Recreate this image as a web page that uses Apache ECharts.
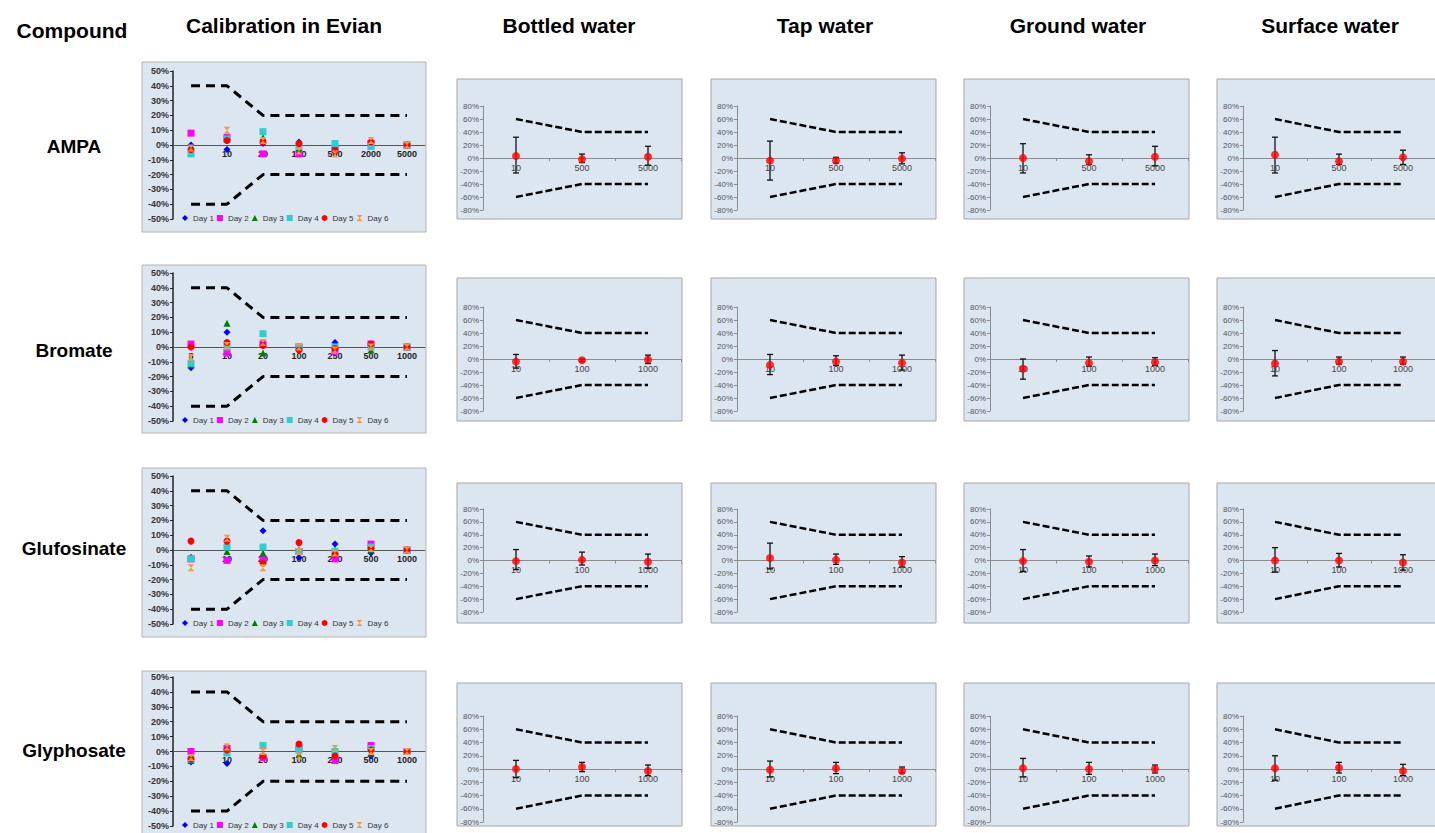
<!DOCTYPE html>
<html><head><meta charset="utf-8">
<script src="https://cdn.jsdelivr.net/npm/echarts@6/dist/echarts.min.js"></script>
<style>html,body{margin:0;padding:0;background:#fff}#c{width:1435px;height:833px}</style>
</head><body><div id="c"></div>
<script>
// ---------- text ----------
const compounds = ['AMPA', 'Bromate', 'Glufosinate', 'Glyphosate'];
const columnTitles = ['Calibration in Evian', 'Bottled water', 'Tap water', 'Ground water', 'Surface water'];
const cornerTitle = 'Compound';
const dayNames = ['Day 1', 'Day 2', 'Day 3', 'Day 4', 'Day 5', 'Day 6'];

// ---------- calibration (deviation %, one row per day) ----------
const ampaCalCats = ['5', '10', '20', '100', '500', '2000', '5000'];
const calCats = ['5', '10', '20', '100', '250', '500', '1000'];
const calUpper = [40, 40, 20, 20, 20, 20, 20];
const calLower = [-40, -40, -20, -20, -20, -20, -20];
const ampaCal = [
  [0, -3, 1, 2, -2, 0, 0],
  [8, 5, -6, -6, -3, 1, 0],
  [-5, 4, 5, -2, -1, 0, 0],
  [-6, 4, 9, -1, 1, -1, 0],
  [-3, 3, 2, 1, -4, 2, 0],
  [-2, 10, 3, -4, -6, 3, 0]
];
const bromateCal = [
  [-14, 10, 3, 0, 3, 0, 0],
  [2, -4, 2, 0, -3, 2, 0],
  [-12, 16, -4, 0, 1, -2, 0],
  [-11, 0, 9, 0, 0, 0, 0],
  [0, 3, 1, -2, -1, 2, 0],
  [-7, 1, 3, 0, -2, 0, 0]
];
const glufosinateCal = [
  [-5, -7, 13, -5, 4, -2, 0],
  [-6, -7, -6, -1, -6, 4, 0],
  [-5, -1, -2, 0, 0, 0, 0],
  [-6, 2, 2, -1, -1, 2, 0],
  [6, 6, -9, 5, -3, 1, 0],
  [-12, 8, -12, -1, -2, 1, 0]
];
const glyphosateCal = [
  [-7, -8, -4, 3, -4, -3, 0],
  [0, 2, -4, 2, -6, 4, 0],
  [-6, 0, -2, -2, -1, -1, 0],
  [-5, -1, 4, 1, 0, 2, 0],
  [-5, 1, -3, 5, -3, 1, 0],
  [-4, 3, 0, -3, 2, 0, 0]
];

// ---------- validation (mean and error range, %, rows: bottled, tap, ground, surface) ----------
const ampaValCats = ['10', '500', '5000'];
const valCats = ['10', '100', '1000'];
const valUpper = [60, 40, 40];
const valLower = [-60, -40, -40];
const ampaMean = [[3, -2, 2], [-4, -4, -1], [0, -5, 2], [5, -5, 1]];
const ampaLow = [[-23, -7, -11], [-34, -8, -9], [-23, -10, -12], [-23, -10, -10]];
const ampaHigh = [[32, 6, 18], [26, 1, 8], [22, 5, 18], [32, 6, 12]];
const bromateMean = [[-4, -2, -1], [-9, -4, -6], [-15, -6, -5], [-7, -4, -4]];
const bromateLow = [[-14, -4, -7], [-24, -10, -17], [-31, -11, -10], [-26, -8, -8]];
const bromateHigh = [[7, 0, 6], [7, 5, 6], [0, 3, 2], [13, 3, 3]];
const glufosinateMean = [[-1, 1, -2], [4, 1, -3], [-1, -2, 0], [0, 0, -3]];
const glufosinateLow = [[-14, -7, -12], [-13, -6, -10], [-17, -10, -8], [-18, -10, -15]];
const glufosinateHigh = [[17, 13, 10], [27, 10, 6], [17, 7, 10], [20, 11, 9]];
const glyphosateMean = [[0, 3, -3], [-1, 1, -3], [1, 0, 0], [1, 2, -3]];
const glyphosateLow = [[-13, -4, -10], [-12, -7, -6], [-12, -8, -6], [-17, -6, -10]];
const glyphosateHigh = [[13, 10, 6], [12, 10, 3], [16, 10, 6], [20, 10, 7]];

// ---------- assembly ----------
const calData = [ampaCal, bromateCal, glufosinateCal, glyphosateCal];
const calCatsByRow = [ampaCalCats, calCats, calCats, calCats];
const valCatsByRow = [ampaValCats, valCats, valCats, valCats];
const means = [ampaMean, bromateMean, glufosinateMean, glyphosateMean];
const lows = [ampaLow, bromateLow, glufosinateLow, glyphosateLow];
const highs = [ampaHigh, bromateHigh, glufosinateHigh, glyphosateHigh];

// layout (pixels)
const FONT = '"Liberation Sans", Arial, sans-serif';
const calBoxX = 142, calBoxW = 284, calPlotLeft = 173, calPlotW = 252;
const calRows = [[62, 232, 71, 219], [265, 433, 273, 421], [468, 637, 476, 624], [671, 840, 677, 826]];
const valBoxX = [457, 711, 964, 1217];
const valBoxW = 225, valAxisOff = 26, valPlotW = 198;
const valRows = [[79, 219, 106, 210], [278, 421, 307, 411], [483, 623, 509, 612], [683, 826, 716, 822]];
const headerX = [284, 569, 825, 1078, 1330];
const rowLabelY = [146, 350, 548, 750];

const dayColors = ['#0000ff', '#ff00ff', '#008000', '#33cccc', '#ff0000', '#f79646'];
const daySymbols = ['diamond', 'rect', 'triangle', 'rect', 'circle', 'path://M0,0L10,0L0,10L10,10Z'];

const grids = [], xAxes = [], yAxes = [], series = [], legends = [], graphics = [];

// titles
graphics.push({type: 'text', z: 10, style: {text: cornerTitle, x: 72, y: 30, textAlign: 'center', textVerticalAlign: 'middle', font: 'bold 21px ' + FONT, fill: '#000'}});
columnTitles.forEach((t, j) => graphics.push({type: 'text', z: 10, style: {text: t, x: headerX[j], y: 25, textAlign: 'center', textVerticalAlign: 'middle', font: 'bold 21px ' + FONT, fill: '#000'}}));
compounds.forEach((t, i) => graphics.push({type: 'text', z: 10, style: {text: t, x: 74, y: rowLabelY[i], textAlign: 'center', textVerticalAlign: 'middle', font: 'bold 19px ' + FONT, fill: '#000'}}));

function errorBar(params, api) {
  const x = api.value(0);
  const lo = api.coord([x, api.value(1)]);
  const hi = api.coord([x, api.value(2)]);
  const hw = 3;
  const st = {stroke: '#111', lineWidth: 1.3};
  return {type: 'group', children: [
    {type: 'line', shape: {x1: lo[0], y1: lo[1], x2: hi[0], y2: hi[1]}, style: st},
    {type: 'line', shape: {x1: hi[0] - hw, y1: hi[1], x2: hi[0] + hw, y2: hi[1]}, style: st},
    {type: 'line', shape: {x1: lo[0] - hw, y1: lo[1], x2: lo[0] + hw, y2: lo[1]}, style: st}
  ]};
}

for (let i = 0; i < 4; i++) {
  // ---- calibration panel ----
  const [bT, bB, pT, pB] = calRows[i];
  graphics.push({type: 'rect', z: -10, shape: {x: calBoxX, y: bT, width: calBoxW, height: bB - bT},
    style: {fill: '#dce6f1', stroke: '#b4b4b4', lineWidth: 1}});
  let g = grids.length;
  grids.push({left: calPlotLeft, top: pT, width: calPlotW, height: pB - pT});
  xAxes.push({type: 'category', gridIndex: g, data: calCatsByRow[i], boundaryGap: true,
    offset: -(pB - pT) / 2,
    axisLine: {onZero: false, lineStyle: {color: '#555', width: 1}}, axisTick: {show: false},
    axisLabel: {interval: 0, fontSize: 9, fontWeight: 'bold', color: '#222', margin: 4, fontFamily: FONT}});
  yAxes.push({type: 'value', gridIndex: g, min: -50, max: 50, interval: 10, splitLine: {show: false},
    axisLine: {show: true, lineStyle: {color: '#222', width: 1.5}}, axisTick: {show: true, length: 3, lineStyle: {color: '#222'}},
    axisLabel: {formatter: '{value}%', fontSize: 9, fontWeight: 'bold', color: '#333', margin: 4, fontFamily: FONT}});
  [calUpper, calLower].forEach(lim => series.push({type: 'line', xAxisIndex: g, yAxisIndex: g, data: lim, symbol: 'none',
    silent: true, z: 1, lineStyle: {color: '#000', width: 3, type: [9, 6]}}));
  calData[i].forEach((vals, d) => series.push({type: 'scatter', name: dayNames[d], xAxisIndex: g, yAxisIndex: g, data: vals,
    symbol: daySymbols[d], symbolSize: 7, z: 3, itemStyle: {color: dayColors[d], opacity: 1}}));
  legends.push({data: dayNames, left: 182, top: pB - 5, orient: 'horizontal', itemWidth: 6, itemHeight: 6, itemGap: 3,
    textStyle: {fontSize: 8, color: '#333', fontFamily: FONT}, padding: 0, selectedMode: false});

  // ---- validation panels ----
  const [vT, vB, qT, qB] = valRows[i];
  for (let j = 0; j < 4; j++) {
    graphics.push({type: 'rect', z: -10, shape: {x: valBoxX[j], y: vT, width: valBoxW, height: vB - vT},
      style: {fill: '#dce6f1', stroke: '#a6a6a6', lineWidth: 1}});
    g = grids.length;
    grids.push({left: valBoxX[j] + valAxisOff, top: qT, width: valPlotW, height: qB - qT});
    xAxes.push({type: 'category', gridIndex: g, data: valCatsByRow[i], boundaryGap: true,
      offset: -(qB - qT) / 2,
      axisLine: {onZero: false, lineStyle: {color: '#8c8c8c', width: 1}}, axisTick: {show: true, length: 3, lineStyle: {color: '#8c8c8c'}},
      axisLabel: {interval: 0, fontSize: 9, color: '#444', margin: 5, fontFamily: FONT}});
    yAxes.push({type: 'value', gridIndex: g, min: -80, max: 80, interval: 20, splitLine: {show: false},
      axisLine: {show: true, lineStyle: {color: '#8c8c8c', width: 1}}, axisTick: {show: true, length: 3, lineStyle: {color: '#8c8c8c'}},
      axisLabel: {formatter: '{value}%', fontSize: 8, color: '#555', margin: 4, fontFamily: FONT}});
    [valUpper, valLower].forEach(lim => series.push({type: 'line', xAxisIndex: g, yAxisIndex: g, data: lim, symbol: 'none',
      silent: true, z: 1, lineStyle: {color: '#000', width: 2.5, type: [7, 3]}}));
    series.push({type: 'custom', xAxisIndex: g, yAxisIndex: g, renderItem: errorBar, z: 2,
      encode: {x: 0, y: [1, 2]},
      data: valCatsByRow[i].map((c, k) => [k, lows[i][j][k], highs[i][j][k]])});
    series.push({type: 'scatter', xAxisIndex: g, yAxisIndex: g, data: means[i][j], symbol: 'circle', symbolSize: 8, z: 3,
      itemStyle: {color: '#ff0000'}});
  }
}

const chart = echarts.init(document.getElementById('c'), null, {renderer: 'svg'});
chart.setOption({
  animation: false,
  backgroundColor: '#ffffff',
  textStyle: {fontFamily: FONT},
  grid: grids, xAxis: xAxes, yAxis: yAxes, series: series, legend: legends,
  graphic: {elements: graphics}
});
</script></body></html>
